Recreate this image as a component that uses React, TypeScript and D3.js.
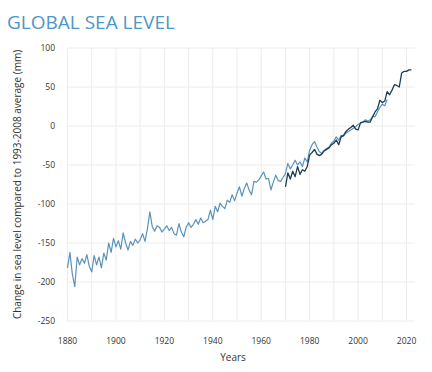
import React from "react";
import * as d3 from "d3";

// Long-term reconstruction, one value per year from 1880 (mm)
const longYears = d3.range(1880, 2013);
const longValues = [
  -182, -162, -190, -206, -168, -178, -170, -176, -165, -180,
  -187, -166, -178, -168, -182, -163, -172, -150, -162, -144,
  -155, -147, -158, -137, -150, -159, -148, -153, -145, -150,
  -146, -138, -148, -132, -110, -129, -135, -128, -130, -136,
  -132, -128, -134, -130, -138, -140, -125, -136, -142, -130,
  -124, -130, -126, -120, -126, -118, -124, -122, -120, -108,
  -120, -103, -110, -99, -103, -106, -95, -98, -88, -96,
  -86, -78, -90, -80, -73, -82, -88, -71, -72, -69,
  -64, -59, -68, -67, -82, -72, -63, -70, -71, -66,
  -61, -48, -55, -50, -44, -50, -46, -52, -41, -46,
  -31, -24, -20, -27, -33, -35, -31, -29, -27, -22,
  -19, -14, -18, -12, -13, -9, -7, -5, -3, -1,
  2, 4, 5, 8, 6, 8, 12, 12, 18, 24,
  28, 26, 34,
];

// Tide gauge and satellite series, one value per year from 1970 (mm)
const recentYears = d3.range(1970, 2023);
const recentValues = [
  -78, -60, -68, -58, -65, -52, -62, -56, -58, -52,
  -37, -34, -30, -36, -38, -36, -32, -30, -28, -24,
  -22, -18, -24, -14, -12, -7, -4, -2, 1, -4,
  -5, 4, 5, 6, 5, 5, 12, 18, 22, 33,
  30, 32, 44, 40, 46, 53, 52, 50, 68, 70,
  70, 72, 72,
];

const yTicks = [100, 50, 0, -50, -100, -150, -200, -250];
const xGrid = d3.range(1880, 2030, 10);
const xLabels = [1880, 1900, 1920, 1940, 1960, 1980, 2000, 2020];

const font = "'Open Sans', sans-serif";

export default function App() {
  const width = 432;
  const height = 372;

  const x = d3.scaleLinear().domain([1880, 2023.5]).range([67.5, 415]);
  const y = d3.scaleLinear().domain([-250, 100]).range([321, 48]);

  const line = d3
    .line<[number, number]>()
    .x((d) => x(d[0]))
    .y((d) => y(d[1]));

  const longPts = longYears.map((yr, i) => [yr, longValues[i]] as [number, number]);
  const recentPts = recentYears.map((yr, i) => [yr, recentValues[i]] as [number, number]);

  return (
    <svg
      width={width}
      height={height}
      style={{ position: "absolute", left: 0, top: 0, background: "#fff" }}
    >
      <text x={7} y={29} fontFamily={font} fontSize={19} fill="#4e96c5">
        GLOBAL SEA LEVEL
      </text>

      {/* grid */}
      {yTicks.map((t) => (
        <line key={"h" + t} x1={x(1880)} x2={x(2023.5)} y1={y(t)} y2={y(t)} stroke="#ececec" strokeWidth={1} />
      ))}
      {xGrid.map((t) => (
        <line key={"v" + t} x1={x(t)} x2={x(t)} y1={y(100)} y2={y(-250)} stroke="#ececec" strokeWidth={1} />
      ))}

      {/* y tick labels */}
      {yTicks.map((t) => (
        <text
          key={"yl" + t}
          x={55}
          y={y(t)}
          dy="0.35em"
          textAnchor="end"
          fontFamily={font}
          fontSize={8.5}
          fill="#333"
        >
          {t}
        </text>
      ))}

      {/* x tick labels */}
      {xLabels.map((t) => (
        <text
          key={"xl" + t}
          x={x(t)}
          y={344}
          textAnchor="middle"
          fontFamily={font}
          fontSize={8.5}
          fill="#333"
        >
          {t}
        </text>
      ))}

      <path d={line(longPts) || ""} fill="none" stroke="#5b92ba" strokeWidth={1.2} strokeLinejoin="round" />
      <path d={line(recentPts) || ""} fill="none" stroke="#1e3d52" strokeWidth={1.3} strokeLinejoin="round" />

      <text x={233} y={361} textAnchor="middle" fontFamily={font} fontSize={10} fill="#333">
        Years
      </text>
      <text
        transform={`translate(21,${(y(100) + y(-250)) / 2}) rotate(-90)`}
        textAnchor="middle"
        fontFamily={font}
        fontSize={10}
        fill="#333"
      >
        Change in sea level compared to 1993-2008 average (mm)
      </text>
    </svg>
  );
}
